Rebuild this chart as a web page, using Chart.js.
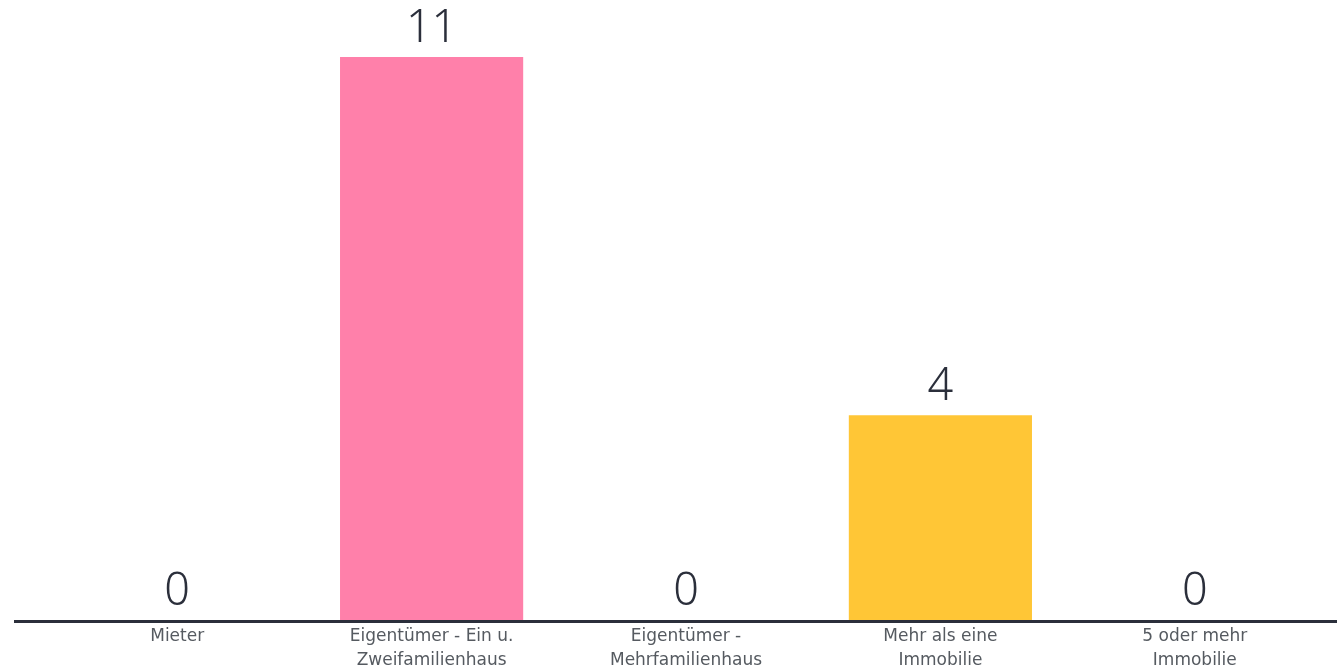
<!DOCTYPE html>
<html>
<head>
<meta charset="utf-8">
<script src="https://cdn.jsdelivr.net/npm/chart.js@4/dist/chart.umd.min.js"></script>
<style>
  html, body { margin: 0; padding: 0; background: #fff; }
  #wrap { width: 1337px; height: 670px; position: relative; }
</style>
</head>
<body>
<div id="wrap"><canvas id="bar-chart"></canvas></div>
<script>
var categories = [
    ['Mieter'],
    ['Eigentümer - Ein u.', 'Zweifamilienhaus'],
    ['Eigentümer -', 'Mehrfamilienhaus'],
    ['Mehr als eine', 'Immobilie'],
    ['5 oder mehr', 'Immobilie']
];
var counts = [0, 11, 0, 4, 0];
var barColors = ['#ff80aa', '#ff80aa', '#ff80aa', '#ffc636', '#ffc636'];

// value labels above each bar
var valueLabels = {
    id: 'valueLabels',
    afterDatasetsDraw: function (chart) {
        var ctx = chart.ctx;
        var meta = chart.getDatasetMeta(0);
        ctx.save();
        ctx.font = '300 45px "Noto Sans", sans-serif';
        ctx.fillStyle = '#2b2f3b';
        ctx.textAlign = 'center';
        ctx.textBaseline = 'alphabetic';
        meta.data.forEach(function (bar, i) {
            ctx.fillText(String(counts[i]), bar.x, bar.y - 15);
        });
        ctx.restore();
    }
};

// baseline running across the whole picture
var baseline = {
    id: 'baseline',
    afterDatasetsDraw: function (chart) {
        var ctx = chart.ctx;
        var y = chart.chartArea.bottom + 1.5;
        ctx.save();
        ctx.strokeStyle = '#2b2f3b';
        ctx.lineWidth = 3;
        ctx.beginPath();
        ctx.moveTo(14, y);
        ctx.lineTo(chart.width, y);
        ctx.stroke();
        ctx.restore();
    }
};

var ctx = document.getElementById('bar-chart');
var chart = new Chart(ctx, {
    type: 'bar',
    data: {
        labels: categories,
        datasets: [{
            data: counts,
            backgroundColor: barColors,
            borderWidth: 0,
            barPercentage: 0.9,
            categoryPercentage: 0.8
        }]
    },
    options: {
        responsive: true,
        maintainAspectRatio: false,
        animation: false,
        layout: { padding: { top: 57, left: 50, right: 15, bottom: 0 } },
        plugins: {
            legend: { display: false },
            tooltip: { enabled: false }
        },
        scales: {
            x: {
                grid: { display: false },
                border: { display: false },
                ticks: {
                    color: '#555a60',
                    padding: -3,
                    font: { family: '"DejaVu Sans", sans-serif', size: 17, lineHeight: 1.41 },
                    maxRotation: 0,
                    autoSkip: false
                }
            },
            y: {
                display: false,
                min: 0,
                max: 11
            }
        }
    },
    plugins: [valueLabels, baseline]
});
</script>
</body>
</html>
